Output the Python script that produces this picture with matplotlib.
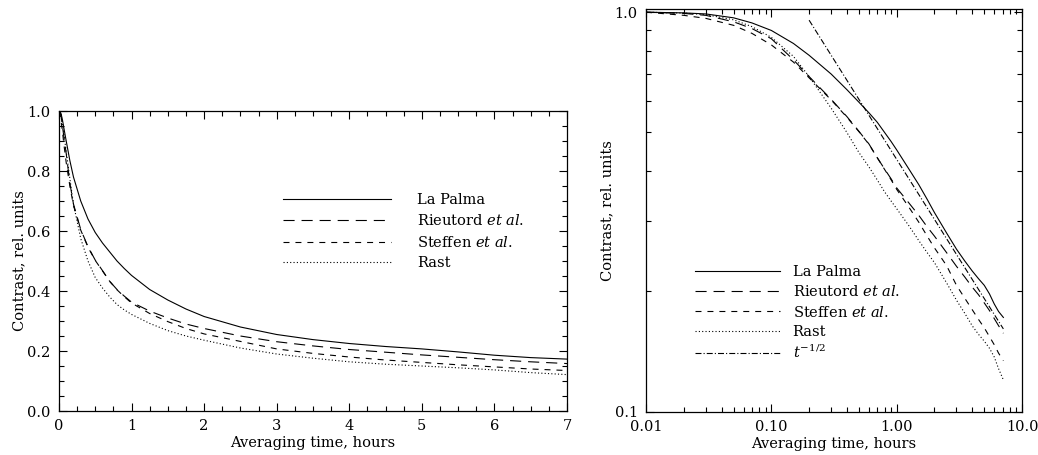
import numpy as np
import matplotlib
matplotlib.use("Agg")
import matplotlib.pyplot as plt
from matplotlib.ticker import MultipleLocator, FixedLocator, FixedFormatter, LogLocator, NullFormatter

plt.rcParams['font.family'] = ['DejaVu Serif']
plt.rcParams['mathtext.fontset'] = 'dejavuserif'
plt.rcParams['lines.scale_dashes'] = False

# averaging time, hours
t_hours = [0.01, 0.02, 0.03, 0.05, 0.07, 0.1, 0.15, 0.2, 0.3, 0.4, 0.5, 0.6, 0.7, 0.8, 0.9,
           1.0, 1.25, 1.5, 1.75, 2.0, 2.5, 3.0, 3.5, 4.0, 4.5, 5.0, 5.5, 6.0, 6.5, 7.1]

la_palma = [1.0, 0.996, 0.99, 0.968, 0.94, 0.90, 0.835, 0.78, 0.70, 0.64, 0.595, 0.56, 0.53, 0.50, 0.475,
            0.452, 0.405, 0.37, 0.34, 0.315, 0.28, 0.255, 0.238, 0.225, 0.215, 0.207, 0.197, 0.186, 0.178, 0.172]
rieutord = [1.0, 0.993, 0.982, 0.946, 0.91, 0.858, 0.76, 0.69, 0.605, 0.548, 0.503, 0.468, 0.432, 0.405, 0.383,
            0.363, 0.333, 0.31, 0.29, 0.275, 0.25, 0.231, 0.217, 0.205, 0.196, 0.187, 0.179, 0.171, 0.164, 0.157]
steffen = [1.0, 0.982, 0.965, 0.927, 0.885, 0.828, 0.75, 0.685, 0.603, 0.546, 0.502, 0.467, 0.432, 0.404, 0.381,
           0.36, 0.325, 0.298, 0.275, 0.257, 0.232, 0.207, 0.192, 0.18, 0.17, 0.162, 0.154, 0.147, 0.14, 0.134]
rast = [1.0, 0.995, 0.986, 0.957, 0.92, 0.865, 0.775, 0.69, 0.575, 0.50, 0.445, 0.41, 0.38, 0.355, 0.337,
        0.322, 0.292, 0.268, 0.25, 0.236, 0.21, 0.19, 0.176, 0.164, 0.156, 0.15, 0.144, 0.137, 0.128, 0.12]

# t^-1/2 reference line, end points
ref_t = [0.2, 7.1]
ref_c = [0.955, 0.161]

series = [
    ("La Palma", la_palma, dict(linestyle='-')),
    ("Rieutord $\\it{et\\ al.}$", rieutord, dict(dashes=(8, 5))),
    ("Steffen $\\it{et\\ al.}$", steffen, dict(dashes=(4.3, 4.3))),
    ("Rast", rast, dict(dashes=(0.8, 1.6))),
]

FS = 10.5
lw = 0.8

fig = plt.figure(figsize=(10.38, 4.55), dpi=100)
ax1 = fig.add_axes([0.0568, 0.0967, 0.4894, 0.6593])
ax2 = fig.add_axes([0.6224, 0.0956, 0.3622, 0.8844])

for label, vals, st in series:
    ax1.plot(t_hours, vals, color='black', lw=lw, label=label, **st)
    ax2.plot(t_hours, vals, color='black', lw=lw, label=label, **st)
ax2.plot(ref_t, ref_c, color='black', lw=lw, dashes=(4.3, 1.5, 0.8, 1.5), label='$t^{-1/2}$')

# left panel
ax1.set_xlim(0, 7)
ax1.set_ylim(0, 1)
ax1.xaxis.set_major_locator(MultipleLocator(1))
ax1.xaxis.set_minor_locator(MultipleLocator(0.25))
ax1.yaxis.set_major_locator(MultipleLocator(0.2))
ax1.yaxis.set_minor_locator(MultipleLocator(0.05))
ax1.yaxis.set_major_formatter(plt.FuncFormatter(lambda v, p: f"{v:.1f}"))

# right panel
ax2.set_xscale('log')
ax2.set_yscale('log')
ax2.set_xlim(0.01, 10)
ax2.set_ylim(0.1, 1.018)
ax2.xaxis.set_major_locator(FixedLocator([0.01, 0.1, 1.0, 10.0]))
ax2.xaxis.set_major_formatter(FixedFormatter(["0.01", "0.10", "1.00", "10.0"]))
ax2.xaxis.set_minor_locator(LogLocator(base=10, subs=np.arange(2, 10)))
ax2.xaxis.set_minor_formatter(NullFormatter())
ax2.yaxis.set_major_locator(FixedLocator([0.1, 1.0]))
ax2.yaxis.set_major_formatter(FixedFormatter(["0.1", "1.0"]))
ax2.yaxis.set_minor_locator(LogLocator(base=10, subs=np.arange(2, 10)))
ax2.yaxis.set_minor_formatter(NullFormatter())

for ax in (ax1, ax2):
    ax.tick_params(which='both', direction='in', top=True, right=True,
                   labelsize=FS, width=0.8, pad=6)
    ax.tick_params(which='major', length=6)
    ax.tick_params(which='minor', length=3.5)
    for sp in ax.spines.values():
        sp.set_linewidth(0.9)
    ax.set_xlabel("Averaging time, hours", fontsize=FS, labelpad=2)
    ax.set_ylabel("Contrast, rel. units", fontsize=FS, labelpad=0.5)

ax1.legend(loc='upper left', bbox_to_anchor=(0.442, 0.727), frameon=False,
           fontsize=FS, handlelength=7.4, handletextpad=1.75, labelspacing=0.44,
           borderpad=0, borderaxespad=0)
ax2.legend(loc='upper left', bbox_to_anchor=(0.13, 0.364), frameon=False,
           fontsize=FS, handlelength=5.8, handletextpad=0.9, labelspacing=0.36,
           borderpad=0, borderaxespad=0)

fig.savefig("out.png", dpi=100)
